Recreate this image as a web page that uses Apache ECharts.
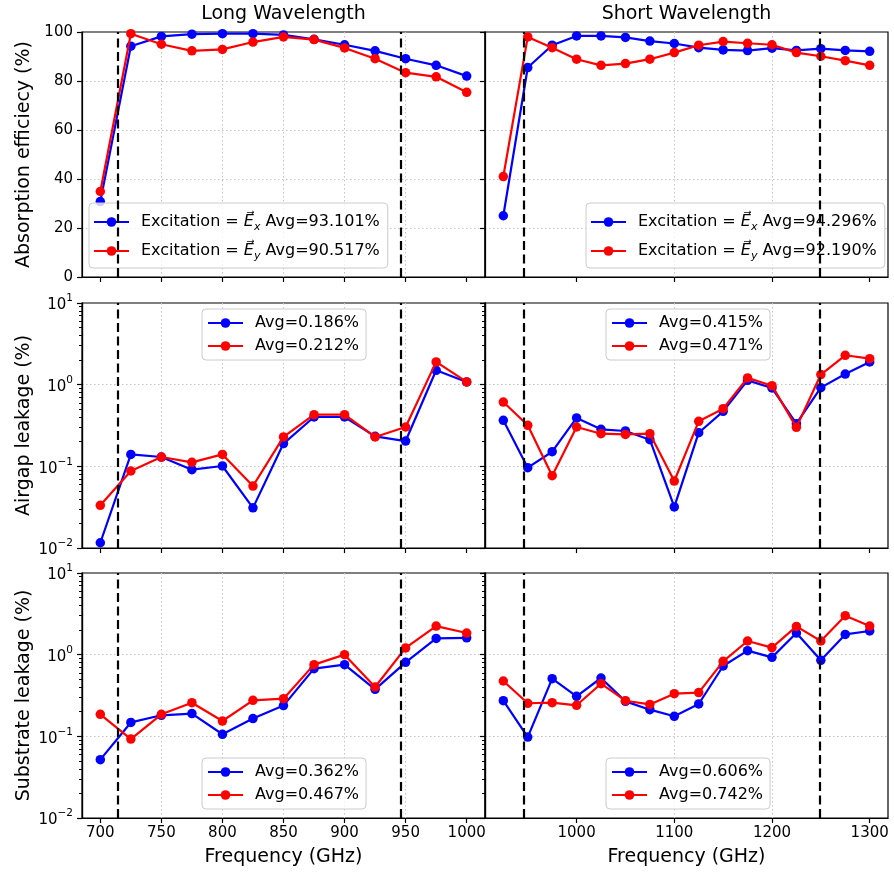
<!DOCTYPE html>
<html>
<head>
<meta charset="utf-8">
<script src="https://cdn.jsdelivr.net/npm/echarts@6/dist/echarts.min.js"></script>
<style>
html, body { margin: 0; padding: 0; background: #fff; }
#chart { width: 894px; height: 873px; }
</style>
</head>
<body>
<div id="chart"></div>
<script>
// frequencies (GHz)
const freqLong = [700, 725, 750, 775, 800, 825, 850, 875, 900, 925, 950, 975, 1000];
const freqShort = [925, 950, 975, 1000, 1025, 1050, 1075, 1100, 1125, 1150, 1175, 1200, 1225, 1250, 1275, 1300];
// band edges (dashed lines)
const bandLong = [714, 946];
const bandShort = [946, 1249];

// absorption efficiency (%)
const absLongX = [30.8, 94.2, 98.2, 99.1, 99.3, 99.3, 98.8, 97.0, 94.8, 92.3, 89.1, 86.4, 82.0];
const absLongY = [34.9, 99.3, 95.0, 92.3, 92.9, 95.9, 98.0, 96.9, 93.5, 89.1, 83.4, 81.7, 75.4];
const absShortX = [25.0, 85.5, 94.6, 98.4, 98.4, 97.8, 96.3, 95.3, 93.6, 92.7, 92.4, 93.4, 92.5, 93.2, 92.5, 92.1];
const absShortY = [41.0, 98.0, 93.6, 88.9, 86.4, 87.1, 88.9, 91.6, 94.6, 96.1, 95.4, 94.8, 91.6, 90.1, 88.3, 86.4];

// airgap leakage (%)
const airLongX = [0.0116, 0.140, 0.130, 0.091, 0.101, 0.031, 0.190, 0.402, 0.402, 0.233, 0.204, 1.50, 1.08];
const airLongY = [0.0333, 0.0877, 0.130, 0.112, 0.140, 0.0574, 0.229, 0.429, 0.429, 0.229, 0.303, 1.90, 1.08];
const airShortX = [0.366, 0.0964, 0.151, 0.391, 0.284, 0.271, 0.212, 0.0318, 0.258, 0.471, 1.13, 0.91, 0.333, 0.919, 1.35, 1.90];
const airShortY = [0.613, 0.318, 0.0769, 0.303, 0.251, 0.246, 0.251, 0.0661, 0.356, 0.508, 1.21, 0.972, 0.300, 1.33, 2.29, 2.08];

// substrate leakage (%)
const subLongX = [0.0518, 0.148, 0.181, 0.190, 0.106, 0.165, 0.238, 0.674, 0.755, 0.376, 0.805, 1.58, 1.61];
const subLongY = [0.186, 0.0927, 0.186, 0.258, 0.154, 0.276, 0.289, 0.755, 1.00, 0.402, 1.21, 2.24, 1.84];
const subShortX = [0.273, 0.098, 0.508, 0.309, 0.518, 0.268, 0.212, 0.176, 0.249, 0.727, 1.12, 0.927, 1.84, 0.853, 1.77, 1.95];
const subShortY = [0.476, 0.254, 0.258, 0.240, 0.441, 0.273, 0.246, 0.333, 0.343, 0.828, 1.47, 1.22, 2.22, 1.47, 3.00, 2.24];

// legend averages
const avgAbs = [['93.101%', '90.517%'], ['94.296%', '92.190%']];
const avgAir = [['0.186%', '0.212%'], ['0.415%', '0.471%']];
const avgSub = [['0.362%', '0.467%'], ['0.606%', '0.742%']];

// axis ticks
const xTicksLong = [700, 750, 800, 850, 900, 950, 1000];
const xTicksShort = [1000, 1100, 1200, 1300];
const logMinor = [0.02, 0.03, 0.04, 0.05, 0.06, 0.07, 0.08, 0.09,
                  0.2, 0.3, 0.4, 0.5, 0.6, 0.7, 0.8, 0.9,
                  2, 3, 4, 5, 6, 7, 8, 9];

const titles = ['Long Wavelength', 'Short Wavelength'];
const yNames = ['Absorption efficiecy (%)', 'Airgap leakage (%)', 'Substrate leakage (%)'];

const FONT = 'DejaVu Sans';
const BLUE = '#0000ff', RED = '#ff0000';
const GRIDLINE = { color: '#c4c4c4', type: [1.5, 2.5], width: 1 };

const colLeft = [82, 485];
const rowTop = [32, 303, 573];
const W = 403, H = 245;
const xRange = [[685, 1015], [906.25, 1318.75]];

const cols = [
  { freq: freqLong, band: bandLong, ticks: xTicksLong },
  { freq: freqShort, band: bandShort, ticks: xTicksShort }
];
const rows = [
  { vals: [[absLongX, absLongY], [absShortX, absShortY]], avg: avgAbs, log: false },
  { vals: [[airLongX, airLongY], [airShortX, airShortY]], avg: avgAir, log: true },
  { vals: [[subLongX, subLongY], [subShortX, subShortY]], avg: avgSub, log: true }
];

const legendPos = [
  [[89, 203], [586, 203]],
  [[202, 309], [606, 309]],
  [[202, 758], [606, 758]]
];

function supLabel(v) {
  const e = Math.round(Math.log10(v));
  return '{b|10}{s|' + (e < 0 ? '\u2212' + (-e) : e) + '}';
}

const grids = [], xAxes = [], yAxes = [], series = [], legends = [];

rows.forEach(function (row, r) {
  cols.forEach(function (col, c) {
    const gi = grids.length;
    grids.push({
      left: colLeft[c], top: rowTop[r], width: W, height: H,
      show: true, borderColor: '#000', borderWidth: 1.2, backgroundColor: 'transparent'
    });
    const bottom = r === 2;
    xAxes.push({
      type: 'value', gridIndex: gi, min: xRange[c][0], max: xRange[c][1],
      name: bottom ? 'Frequency (GHz)' : '', nameLocation: 'middle', nameGap: 30,
      nameTextStyle: { fontFamily: FONT, fontSize: 19, color: '#000' },
      axisLine: { show: true, onZero: false, lineStyle: { color: '#000', width: 1.2 } },
      axisTick: { show: true, length: 5, customValues: col.ticks, lineStyle: { color: '#000', width: 1.2 } },
      axisLabel: {
        show: bottom, customValues: col.ticks, margin: 8, fontFamily: FONT, fontSize: 15, color: '#000',
        formatter: function (v) { return String(v); }
      },
      splitLine: { show: true, showMinLine: false, showMaxLine: false, lineStyle: GRIDLINE }
    });
    const yi = yAxes.length;
    const yBase = {
      gridIndex: gi, position: 'left',
      name: c === 0 ? yNames[r] : '', nameLocation: 'middle', nameRotate: 90, nameGap: 48,
      nameTextStyle: { fontFamily: FONT, fontSize: 19, color: '#000' },
      axisLine: { show: true, onZero: false, lineStyle: { color: '#000', width: 1.2 } },
      axisTick: { show: true, length: 5, lineStyle: { color: '#000', width: 1.2 } },
      splitLine: { show: true, showMinLine: false, showMaxLine: false, lineStyle: GRIDLINE }
    };
    if (row.log) {
      yAxes.push(Object.assign(yBase, {
        type: 'log', logBase: 10, min: 0.01, max: 10,
        axisLabel: {
          show: c === 0, margin: 9, fontFamily: FONT, color: '#000',
          formatter: supLabel,
          rich: {
            b: { fontFamily: FONT, fontSize: 15, lineHeight: 20, verticalAlign: 'bottom', color: '#000' },
            s: { fontFamily: FONT, fontSize: 10.5, lineHeight: 12, verticalAlign: 'top', color: '#000' }
          }
        }
      }));
      // minor ticks: helper axis in decade units, placed over the log axis
      yAxes.push({
        type: 'value', min: -2, max: 1, gridIndex: gi, position: 'left',
        axisLine: { show: true, onZero: false, lineStyle: { color: '#000', width: 1.2 } },
        axisLabel: { show: false }, splitLine: { show: false },
        axisTick: { show: true, length: 3, customValues: logMinor.map(Math.log10), lineStyle: { color: '#000', width: 1 } }
      });
    } else {
      yAxes.push(Object.assign(yBase, {
        type: 'value', min: 0, max: 100, interval: 20,
        axisLabel: { show: c === 0, margin: 9, fontFamily: FONT, fontSize: 15, color: '#000' }
      }));
    }

    const names = row.log
      ? ['Avg=' + row.avg[c][0], 'Avg=' + row.avg[c][1]]
      : ['Ex Avg=' + row.avg[c][0], 'Ey Avg=' + row.avg[c][1]];
    const colors = [BLUE, RED];
    [0, 1].forEach(function (k) {
      const s = {
        type: 'line', name: names[k], xAxisIndex: gi, yAxisIndex: yi,
        data: col.freq.map(function (f, i) { return [f, row.vals[c][k][i]]; }),
        symbol: 'circle', symbolSize: 9.5, showAllSymbol: true,
        lineStyle: { color: colors[k], width: 2.2 },
        itemStyle: { color: colors[k] },
        emphasis: { disabled: true },
        z: 3 + k
      };
      if (k === 0) {
        s.markLine = {
          silent: true, symbol: 'none', label: { show: false },
          lineStyle: { color: '#000', type: [9, 4.5], width: 2.2 },
          emphasis: { disabled: true },
          data: col.band.map(function (b) { return { xAxis: b }; })
        };
      }
      series.push(s);
    });

    const top = !row.log;
    legends.push({
      orient: 'vertical', left: legendPos[r][c][0], top: legendPos[r][c][1],
      data: names, selectedMode: false,
      itemWidth: 35, itemHeight: 12, itemGap: top ? 7 : 5,
      padding: top ? [8, 8, 6, 4] : [5, 7, 5, 5],
      backgroundColor: 'rgba(255,255,255,0.8)', borderColor: '#cccccc', borderWidth: 1, borderRadius: 4,
      textStyle: {
        fontFamily: FONT, fontSize: 16, color: '#000', lineHeight: top ? 22 : 18, padding: [0, 0, 0, 7],
        rich: {
          t: { fontFamily: FONT, fontSize: 16, lineHeight: 22, color: '#000' },
          e: { fontFamily: FONT, fontSize: 16, lineHeight: 22, fontStyle: 'italic', color: '#000' },
          sub: { fontFamily: FONT, fontSize: 11, lineHeight: 14, verticalAlign: 'bottom', fontStyle: 'italic', color: '#000' }
        }
      },
      formatter: top ? function (name) {
        const parts = name.split(' ');
        return '{t|Excitation = }{e|E\u20D7}{sub|' + parts[0].charAt(1) + '}{t| ' + parts[1] + '}';
      } : '{name}'
    });
  });
});

const chart = echarts.init(document.getElementById('chart'), null, { renderer: 'canvas' });
chart.setOption({
  animation: false,
  backgroundColor: '#fff',
  title: titles.map(function (t, c) {
    return {
      text: t, left: colLeft[c] + W / 2, top: 5, textAlign: 'center', padding: 0,
      textStyle: { fontFamily: FONT, fontSize: 19, fontWeight: 'normal', color: '#000' }
    };
  }),
  grid: grids,
  xAxis: xAxes,
  yAxis: yAxes,
  legend: legends,
  series: series
});
</script>
</body>
</html>
